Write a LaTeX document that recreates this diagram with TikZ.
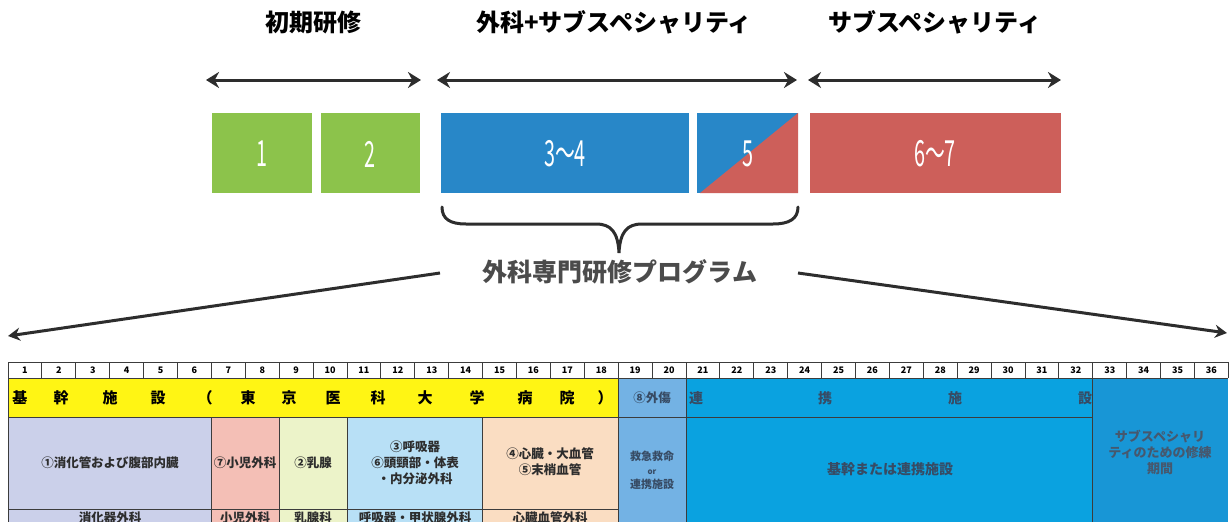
\documentclass[tikz,border=0pt]{standalone}
\usepackage{fontspec}
\usepackage{graphicx}
\newfontfamily\jp{Noto Sans CJK JP}
\usetikzlibrary{arrows.meta}
\definecolor{ink}{RGB}{45,45,45}
\definecolor{titlegray}{RGB}{75,75,75}
\definecolor{gridline}{RGB}{60,60,60}
\definecolor{boxgreen}{RGB}{140,195,75}
\definecolor{boxblue}{RGB}{40,135,200}
\definecolor{boxred}{RGB}{205,95,90}
\definecolor{tyellow}{RGB}{255,245,20}
\definecolor{tblue}{RGB}{115,178,228}
\definecolor{tcyan}{RGB}{10,162,224}
\definecolor{tsub}{RGB}{24,150,214}
\definecolor{tlav}{RGB}{203,208,234}
\definecolor{tpink}{RGB}{244,191,182}
\definecolor{tgreen}{RGB}{236,243,201}
\definecolor{tlblue}{RGB}{184,224,246}
\definecolor{tpeach}{RGB}{250,221,194}
\definecolor{bluetext}{RGB}{55,75,100}
\definecolor{subtext}{RGB}{70,88,110}
\tikzset{
  head/.style={font=\jp\bfseries\fontsize{24}{24}\selectfont, text=black, inner sep=0pt},
  prog/.style={font=\jp\bfseries\fontsize{25}{25}\selectfont, text=titlegray, inner sep=0pt},
  boxnum/.style={font=\jp\fontsize{36}{36}\selectfont, text=white, inner sep=0pt},
  span/.style={draw=ink, line width=3pt, {Stealth[length=13pt,width=16pt]}-{Stealth[length=13pt,width=16pt]}},
  longarrow/.style={draw=ink, line width=3pt, -{Stealth[length=12pt,width=13pt]}},
  bracestyle/.style={draw=ink, line width=3pt, line cap=round},
  grid/.style={draw=gridline, line width=1pt},
  numtxt/.style={font=\jp\bfseries\fontsize{9}{9}\selectfont, text=black, inner sep=0pt},
  ychar/.style={font=\jp\bfseries\fontsize{15}{15}\selectfont, text=black, inner sep=0pt},
  cchar/.style={font=\jp\bfseries\fontsize{14}{14}\selectfont, text=bluetext, inner sep=0pt},
  celltxt/.style={font=\jp\bfseries\fontsize{12.5}{16}\selectfont, text=ink, align=center, inner sep=0pt},
  bluetxt/.style={font=\jp\bfseries\fontsize{12.5}{15}\selectfont, text=bluetext, align=center, inner sep=0pt},
}
\begin{document}
\begin{tikzpicture}[x=1pt,y=-1pt]
\useasboundingbox (0,0) rectangle (1229,522);
\fill[white] (0,0) rectangle (1229,522);

% headers
\node[head] (h1) at (313,22) {初期研修};
\node[head] (h2) at (614,22) {外科+サブスペシャリティ};
\node[head] (h3) at (935,22) {サブスペシャリティ};

% span arrows
\coordinate (a1) at (206,80); \coordinate (a2) at (421,80);
\coordinate (b1) at (437,80); \coordinate (b2) at (797,80);
\coordinate (c1) at (808,80); \coordinate (c2) at (1061,80);
\draw[span] (a1) -- (a2);
\draw[span] (b1) -- (b2);
\draw[span] (c1) -- (c2);

% year boxes
\fill[boxgreen] (212,113) rectangle (312,193);
\fill[boxgreen] (321,113) rectangle (420,193);
\fill[boxblue] (441,113) rectangle (689,193);
\fill[boxblue] (697,113) rectangle (798,193);
\fill[boxred] (700,193) -- (798,193) -- (798,113) -- cycle;
\fill[boxred] (810,113) rectangle (1061,193);
\node[boxnum] (y1) at (262,154) {\scalebox{0.55}[1]{1}};
\node[boxnum] (y2) at (370,154) {\scalebox{0.55}[1]{2}};
\node[boxnum] (y34) at (565,154) {\scalebox{0.55}[1]{3～4}};
\node[boxnum] (y5) at (748,154) {\scalebox{0.55}[1]{5}};
\node[boxnum] (y67) at (935,154) {\scalebox{0.55}[1]{6～7}};

% brace
\draw[bracestyle] (442,207) .. controls (442,219) and (450,224) .. (466,224) -- (596,224) .. controls (611,224) and (618,232) .. (619,253) .. controls (620,232) and (627,224) .. (642,224) -- (773,224) .. controls (789,224) and (798,219) .. (798,207);

% program title and long arrows
\node[prog] (pt) at (620,272) {外科専門研修プログラム};
\coordinate (l1) at (440,273); \coordinate (l2) at (8,336);
\coordinate (r1) at (798,273); \coordinate (r2) at (1227,333);
\draw[longarrow] (l1) -- (l2);
\draw[longarrow] (r1) -- (r2);

% table fills
\fill[tyellow] (8,378) rectangle (618.2,417);
\fill[tblue] (618.2,378) rectangle (686,522);
\fill[tcyan] (686,378) rectangle (1092.8,522);
\fill[tsub] (1092.8,378) rectangle (1228.4,522);
\fill[tlav] (8,417) rectangle (211.4,522);
\fill[tpink] (211.4,417) rectangle (279.2,522);
\fill[tgreen] (279.2,417) rectangle (347,522);
\fill[tlblue] (347,417) rectangle (482.6,522);
\fill[tpeach] (482.6,417) rectangle (618.2,522);

% number row
\draw[grid] (8,362) -- (1228.4,362);
\foreach \k in {0,...,36} { \draw[grid] ({8+\k*33.9},362) -- ({8+\k*33.9},378); }
\foreach \k in {1,...,36} { \node[numtxt] (n\k) at ({8+(\k-0.5)*33.9},370.5) {\k}; }

% table lines
\draw[grid] (8,378) -- (1228.4,378);
\draw[grid] (8,417) -- (1092.8,417);
\draw[grid] (8,509) -- (618.2,509);
\draw[grid] (8,362) -- (8,522);
\foreach \xx in {211.4,279.2,347,482.6} { \draw[grid] (\xx,417) -- (\xx,522); }
\foreach \xx in {618.2,686,1092.8} { \draw[grid] (\xx,378) -- (\xx,522); }

% yellow row characters
\node[ychar] (k1) at (20,398) {基};
\node[ychar] (k2) at (61,398) {幹};
\node[ychar] (k3) at (110,398) {施};
\node[ychar] (k4) at (158,398) {設};
\node[ychar] (k5) at (205,398) {（};
\node[ychar] (k6) at (248,398) {東};
\node[ychar] (k7) at (289,398) {京};
\node[ychar] (k8) at (333,398) {医};
\node[ychar] (k9) at (378,398) {科};
\node[ychar] (k10) at (425,398) {大};
\node[ychar] (k11) at (477,398) {学};
\node[ychar] (k12) at (525,398) {病};
\node[ychar] (k13) at (567,398) {院};
\node[ychar] (k14) at (605,398) {）};

% renkei row characters
\node[cchar] (r1c) at (696,398) {連};
\node[cchar] (r2c) at (825,398) {携};
\node[cchar] (r3c) at (955,398) {施};
\node[cchar] (r4c) at (1085,398) {設};
\node[bluetxt] (gai) at (652,398) {⑧外傷};

% main cells
\node[celltxt] (c1) at (110,463) {①消化管および腹部内臓};
\node[celltxt] (c2) at (245,463) {⑦小児外科};
\node[celltxt] (c3) at (313,463) {②乳腺};
\node[celltxt] (c4) at (415,463) {③呼吸器\\⑥頭頸部・体表\\・内分泌外科};
\node[celltxt] (c5) at (550,462) {④心臓・大血管\\⑤末梢血管};
\node[bluetxt, font=\jp\bfseries\fontsize{11}{14}\selectfont] (c6) at (652,470) {救急救命\\{\fontsize{8}{8}\selectfont or}\\連携施設};
\node[bluetxt, font=\jp\bfseries\fontsize{14}{14}\selectfont] (c7) at (890,469) {基幹または連携施設};
\node[bluetxt, text=subtext, font=\jp\bfseries\fontsize{13}{16}\selectfont] (c8) at (1160,452) {サブスペシャリ\\ティのための修練\\期間};

% bottom row
\node[celltxt] (d1) at (110,518) {消化器外科};
\node[celltxt] (d2) at (245,518) {小児外科};
\node[celltxt] (d3) at (313,518) {乳腺科};
\node[celltxt] (d4) at (415,518) {呼吸器・甲状腺外科};
\node[celltxt] (d5) at (550,518) {心臓血管外科};
\end{tikzpicture}
\end{document}
